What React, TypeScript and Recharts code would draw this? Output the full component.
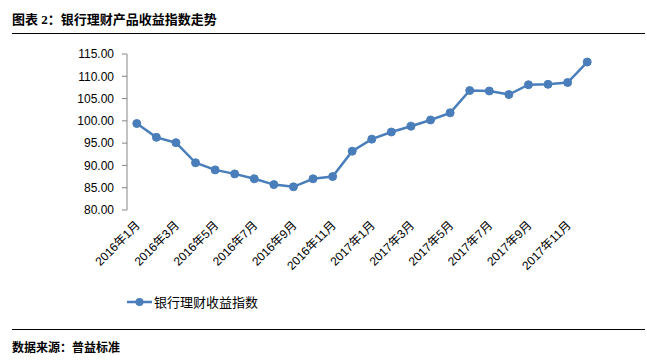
import React from 'react';
import { LineChart, Line, XAxis, YAxis } from 'recharts';

const months = [
  '2016年1月', '2016年2月', '2016年3月', '2016年4月', '2016年5月', '2016年6月',
  '2016年7月', '2016年8月', '2016年9月', '2016年10月', '2016年11月', '2016年12月',
  '2017年1月', '2017年2月', '2017年3月', '2017年4月', '2017年5月', '2017年6月',
  '2017年7月', '2017年8月', '2017年9月', '2017年10月', '2017年11月', '2017年12月',
];
const indexValues = [
  99.4, 96.3, 95.1, 90.6, 89.0, 88.1, 87.0, 85.7, 85.2, 87.0, 87.5, 93.2,
  95.9, 97.5, 98.8, 100.2, 101.8, 106.8, 106.7, 105.9, 108.1, 108.2, 108.6, 113.2,
];
const yTicks = [80, 85, 90, 95, 100, 105, 110, 115];
const seriesName = '银行理财收益指数';

const FONT = '"Liberation Sans", Arial, "Noto Sans CJK SC", sans-serif';
const BLUE = '#4a7ebb';
const AXIS = '#868686';

// each month sits in the middle of its category slot: slot i spans [i, i+1]
const data = months.map((m, i) => ({ pos: i + 0.5, month: m, value: indexValues[i] }));
const boundaryTicks = Array.from({ length: months.length / 2 + 1 }, (_, k) => k * 2);
const labelTicks = months.map((_, i) => i + 0.5).filter((_, i) => i % 2 === 0);

function MonthTick({ x, y, payload }: any) {
  const label = months[Math.floor(payload.value)];
  return (
    <text
      x={x + 4}
      y={y + 8}
      textAnchor="end"
      fontSize={12}
      fontFamily={FONT}
      fill="#000"
      transform={`rotate(-45, ${x + 4}, ${y + 8})`}
    >
      {label}
    </text>
  );
}

export default function App() {
  return (
    <div style={{ position: 'relative', width: 647, height: 364, background: '#fff', fontFamily: FONT }}>
      <style>{'body{margin:0}'}</style>
      <div style={{ position: 'absolute', left: 12, top: 12, fontSize: 13, fontWeight: 700, lineHeight: '16px', fontFamily: '"Liberation Serif", "Noto Sans CJK SC", serif' }}>
        图表 2：银行理财产品收益指数走势
      </div>
      <div style={{ position: 'absolute', left: 12, top: 33, width: 633, height: 1, background: '#000' }} />

      <div style={{ position: 'absolute', left: 0, top: 0 }}>
        <LineChart width={647} height={290} data={data} margin={{ top: 54, right: 50, bottom: 0, left: 67 }}>
          <XAxis
            xAxisId="marks"
            dataKey="pos"
            type="number"
            domain={[0, 24]}
            ticks={boundaryTicks}
            allowDataOverflow
            height={0}
            stroke={AXIS}
            tickSize={5}
            tick={() => <g />}
          />
          <XAxis
            xAxisId="labels"
            dataKey="pos"
            type="number"
            domain={[0, 24]}
            ticks={labelTicks}
            axisLine={false}
            tickLine={false}
            height={80}
            interval={0}
            tick={<MonthTick />}
          />
          <YAxis
            domain={[80, 115]}
            ticks={yTicks}
            width={60}
            stroke={AXIS}
            tickSize={5}
            tickMargin={8}
            tick={{ fontSize: 12, fill: '#000', fontFamily: FONT }}
            tickFormatter={(v: number) => v.toFixed(2)}
          />
          <Line
            xAxisId="labels"
            dataKey="value"
            name={seriesName}
            stroke={BLUE}
            strokeWidth={2.5}
            dot={{ r: 4, fill: BLUE, stroke: BLUE, strokeWidth: 1 }}
            isAnimationActive={false}
          />
        </LineChart>
      </div>

      <svg style={{ position: 'absolute', left: 0, top: 290 }} width={300} height={24}>
        <line x1={127} y1={12} x2={152} y2={12} stroke={BLUE} strokeWidth={2.5} />
        <circle cx={139.5} cy={12} r={4} fill={BLUE} />
        <text x={154} y={17} fontSize={13} fontFamily={FONT} fill="#000">{seriesName}</text>
      </svg>

      <div style={{ position: 'absolute', left: 12, top: 329, width: 633, height: 1, background: '#000' }} />
      <div style={{ position: 'absolute', left: 12, top: 340, fontSize: 12, fontWeight: 700, lineHeight: '16px', fontFamily: '"Liberation Serif", "Noto Sans CJK SC", serif' }}>
        数据来源：普益标准
      </div>
    </div>
  );
}
